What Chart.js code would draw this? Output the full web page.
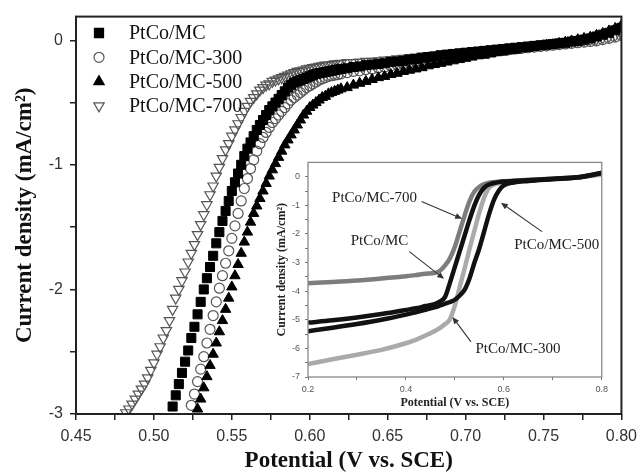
<!DOCTYPE html>
<html>
<head>
<meta charset="utf-8">
<script src="https://cdn.jsdelivr.net/npm/chart.js@4.4.1/dist/chart.umd.min.js"></script>
<style>
  html, body { margin: 0; padding: 0; background: #fff; }
  #wrap { position: relative; width: 644px; height: 475px; }
  #main { position: absolute; left: 0; top: 0; }
  #inset { position: absolute; left: 266px; top: 152px; }
</style>
</head>
<body>
<div id="wrap">
  <canvas id="main" width="644" height="475"></canvas>
  <canvas id="inset" width="346" height="258"></canvas>
</div>
<script>
// main plot: potential (V vs SCE), current density (mA/cm2)
var potential = [
  0.480, 0.482, 0.484, 0.486, 0.488, 0.490, 0.492, 0.494, 0.496, 0.498,
  0.500, 0.502, 0.504, 0.506, 0.508, 0.510, 0.512, 0.514, 0.516, 0.518,
  0.520, 0.522, 0.524, 0.526, 0.528, 0.530, 0.532, 0.534, 0.536, 0.538,
  0.540, 0.542, 0.544, 0.546, 0.548, 0.550, 0.552, 0.554, 0.556, 0.558,
  0.560, 0.562, 0.564, 0.566, 0.568, 0.570, 0.572, 0.574, 0.576, 0.578,
  0.580, 0.582, 0.584, 0.586, 0.588, 0.590, 0.592, 0.594, 0.596, 0.598,
  0.600, 0.602, 0.604, 0.606, 0.608, 0.610, 0.612, 0.614, 0.616, 0.618,
  0.620,
  0.624, 0.628, 0.632, 0.636, 0.640, 0.644, 0.648, 0.652, 0.656, 0.660,
  0.664, 0.668, 0.672, 0.676, 0.680, 0.684, 0.688, 0.692, 0.696, 0.700,
  0.704, 0.708, 0.712, 0.716, 0.720, 0.724, 0.728, 0.732, 0.736, 0.740,
  0.744, 0.748, 0.752, 0.756, 0.760, 0.764, 0.768, 0.772, 0.776, 0.780,
  0.784, 0.788, 0.792, 0.796, 0.800
];

var jMC = [
  null, null, null, null, null, null, null, null, null, null,
  null, null, null, null, null, null, -2.94, -2.85, -2.76, -2.67,
  -2.58, -2.49, -2.39, -2.30, -2.20, -2.10, -2.00, -1.91, -1.82, -1.73,
  -1.63, -1.54, -1.45, -1.37, -1.29, -1.21, -1.14, -1.07, -1.00, -0.93,
  -0.87, -0.82, -0.77, -0.72, -0.68, -0.64, -0.60, -0.56, -0.53, -0.50,
  -0.47, -0.44, -0.41, -0.38, -0.36, -0.34, -0.33, -0.32, -0.31, -0.30,
  -0.29, -0.28, -0.27, -0.265, -0.26, -0.255, -0.25, -0.245, -0.24, -0.235,
  -0.23,
  -0.225, -0.215, -0.21, -0.20, -0.195, -0.19, -0.185, -0.175, -0.17, -0.165,
  -0.155, -0.15, -0.14, -0.135, -0.13, -0.12, -0.115, -0.11, -0.105, -0.10,
  -0.095, -0.09, -0.085, -0.08, -0.075, -0.07, -0.065, -0.06, -0.055, -0.05,
  -0.045, -0.04, -0.035, -0.03, -0.025, -0.02, -0.01, -0.005, 0.005, 0.015,
  0.03, 0.045, 0.06, 0.08, 0.10
];

var jMC300 = [
  null, null, null, null, null, null, null, null, null, null,
  null, null, null, null, null, null, null, null, null, null,
  null, null, -2.93, -2.84, -2.74, -2.64, -2.54, -2.43, -2.32, -2.21,
  -2.10, -1.99, -1.89, -1.79, -1.69, -1.59, -1.49, -1.39, -1.29, -1.19,
  -1.11, -1.03, -0.96, -0.89, -0.83, -0.78, -0.74, -0.70, -0.66, -0.63,
  -0.60, -0.57, -0.54, -0.51, -0.48, -0.46, -0.44, -0.42, -0.40, -0.38,
  -0.365, -0.35, -0.335, -0.32, -0.31, -0.30, -0.29, -0.285, -0.28, -0.275,
  -0.27,
  -0.26, -0.25, -0.245, -0.235, -0.23, -0.22, -0.215, -0.205, -0.195, -0.19,
  -0.18, -0.17, -0.165, -0.155, -0.15, -0.14, -0.135, -0.13, -0.12, -0.115,
  -0.11, -0.105, -0.10, -0.09, -0.085, -0.08, -0.075, -0.07, -0.065, -0.06,
  -0.055, -0.05, -0.045, -0.04, -0.035, -0.03, -0.025, -0.02, -0.015, -0.01,
  -0.005, 0.005, 0.015, 0.025, 0.04
];

var jMC500 = [
  null, null, null, null, null, null, null, null, null, null,
  null, null, null, null, null, null, null, null, null, null,
  null, null, null, null, -2.96, -2.88, -2.79, -2.70, -2.61, -2.52,
  -2.43, -2.34, -2.25, -2.16, -2.07, -1.98, -1.89, -1.80, -1.71, -1.62,
  -1.54, -1.46, -1.39, -1.33, -1.27, -1.21, -1.15, -1.09, -1.04, -0.99,
  -0.94, -0.89, -0.84, -0.80, -0.76, -0.72, -0.68, -0.64, -0.60, -0.57,
  -0.54, -0.52, -0.50, -0.48, -0.46, -0.45, -0.43, -0.42, -0.41, -0.40,
  -0.39,
  -0.38, -0.36, -0.345, -0.33, -0.315, -0.30, -0.29, -0.275, -0.265, -0.25,
  -0.24, -0.23, -0.22, -0.205, -0.195, -0.185, -0.175, -0.165, -0.155, -0.145,
  -0.135, -0.125, -0.12, -0.11, -0.10, -0.095, -0.085, -0.08, -0.07, -0.065,
  -0.055, -0.05, -0.04, -0.035, -0.025, -0.015, -0.005, 0.005, 0.015, 0.025,
  0.04, 0.055, 0.075, 0.095, 0.12
];

var jMC700 = [
  null, -2.99, -2.96, -2.92, -2.88, -2.84, -2.80, -2.76, -2.71, -2.65,
  -2.59, -2.52, -2.46, -2.39, -2.33, -2.25, -2.16, -2.07, -2.00, -1.93,
  -1.86, -1.78, -1.71, -1.64, -1.56, -1.48, -1.40, -1.32, -1.24, -1.17,
  -1.09, -1.02, -0.95, -0.88, -0.83, -0.77, -0.72, -0.67, -0.62, -0.57,
  -0.53, -0.49, -0.46, -0.43, -0.40, -0.38, -0.36, -0.35, -0.33, -0.32,
  -0.31, -0.30, -0.29, -0.28, -0.27, -0.26, -0.25, -0.245, -0.24, -0.23,
  -0.225, -0.22, -0.215, -0.21, -0.205, -0.20, -0.20, -0.195, -0.19, -0.19,
  -0.185,
  -0.18, -0.18, -0.175, -0.17, -0.17, -0.165, -0.16, -0.155, -0.15, -0.145,
  -0.14, -0.135, -0.13, -0.125, -0.12, -0.115, -0.11, -0.105, -0.10, -0.095,
  -0.09, -0.085, -0.08, -0.075, -0.07, -0.065, -0.06, -0.055, -0.05, -0.045,
  -0.04, -0.035, -0.03, -0.025, -0.02, -0.015, -0.01, -0.005, 0.00, 0.005,
  0.01, 0.02, 0.03, 0.04, 0.05
];

var seriesNames = ['PtCo/MC', 'PtCo/MC-300', 'PtCo/MC-500', 'PtCo/MC-700'];

var xMajor = [0.45, 0.50, 0.55, 0.60, 0.65, 0.70, 0.75, 0.80];
var xLabels = ['0.45', '0.50', '0.55', '0.60', '0.65', '0.70', '0.75', '0.80'];
var xMinor = [0.475, 0.525, 0.575, 0.625, 0.675, 0.725, 0.775];
var yMajor = [-3, -2, -1, 0];
var yLabels = ['-3', '-2', '-1', '0'];
var yMinor = [-2.5, -1.5, -0.5];

// inset: full sweep
var insetPotential = [0.20, 0.25, 0.30, 0.35, 0.40, 0.42, 0.44, 0.46, 0.47, 0.48, 0.49, 0.50, 0.51, 0.52,
  0.53, 0.54, 0.55, 0.56, 0.57, 0.58, 0.59, 0.60, 0.62, 0.65, 0.70, 0.75, 0.80];
var inMC = [-5.1, -5.02, -4.92, -4.8, -4.66, -4.6, -4.52, -4.44, -4.36, -4.2, -3.7, -3.15, -2.6, -2.05,
  -1.5, -1.0, -0.62, -0.38, -0.27, -0.22, -0.19, -0.17, -0.15, -0.12, -0.07, -0.02, 0.12];
var inMC300 = [-6.55, -6.38, -6.22, -6.05, -5.82, -5.7, -5.55, -5.38, -5.28, -5.15, -4.98, -4.5, -3.85, -3.2,
  -2.52, -1.88, -1.25, -0.72, -0.38, -0.27, -0.22, -0.19, -0.16, -0.13, -0.08, -0.03, 0.08];
var inMC500 = [-5.4, -5.28, -5.15, -5.0, -4.82, -4.74, -4.65, -4.56, -4.5, -4.44, -4.38, -4.3, -4.15, -3.95,
  -3.55, -3.0, -2.5, -1.9, -1.3, -0.8, -0.48, -0.3, -0.2, -0.15, -0.09, -0.03, 0.14];
var inMC700 = [-3.72, -3.68, -3.63, -3.56, -3.48, -3.44, -3.39, -3.36, -3.28, -3.1, -2.85, -2.45, -1.9, -1.35,
  -0.85, -0.52, -0.35, -0.26, -0.21, -0.19, -0.17, -0.16, -0.14, -0.11, -0.07, -0.02, 0.10];

var inXMajor = [0.2, 0.4, 0.6, 0.8];
var inXLabels = ['0.2', '0.4', '0.6', '0.8'];
var inXMinor = [0.3, 0.5, 0.7];
var inYMajor = [-7, -6, -5, -4, -3, -2, -1, 0];
var inYLabels = ['-7', '-6', '-5', '-4', '-3', '-2', '-1', '0'];
var inYMinor = [-6.5, -5.5, -4.5, -3.5, -2.5, -1.5, -0.5];

// labels with arrows inside the inset, in data units
var insetNotes = [
  { text: 'PtCo/MC-700', at: [0.336, -0.73], from: [0.432, -0.87], to: [0.515, -1.47] },
  { text: 'PtCo/MC', at: [0.346, -2.24], from: [0.407, -2.62], to: [0.478, -3.57] },
  { text: 'PtCo/MC-500', at: [0.708, -2.38], from: [0.678, -1.92], to: [0.594, -0.91] },
  { text: 'PtCo/MC-300', at: [0.629, -6.01], from: [0.533, -5.77], to: [0.495, -4.9] }
];

function pts(xs, ys) {
  var out = [];
  for (var i = 0; i < xs.length; i++) {
    if (ys[i] !== null) out.push({ x: xs[i], y: ys[i] });
  }
  return out;
}

function setTicks(major, minor) {
  return function (scale) {
    scale.ticks = major.concat(minor).sort(function (a, b) { return a - b; })
      .map(function (v) { return { value: v }; });
  };
}

function tickLabel(major, labels) {
  return function (value) {
    var i = major.indexOf(value);
    return i >= 0 ? labels[i] : '';
  };
}

var framePlugin = {
  id: 'frame',
  afterDatasetsDraw: function (chart, args, opts) {
    var a = chart.chartArea, ctx = chart.ctx;
    ctx.save();
    ctx.strokeStyle = opts.color;
    ctx.lineWidth = opts.width;
    ctx.strokeRect(a.left, a.top, a.right - a.left, a.bottom - a.top);
    ctx.restore();
  }
};

function drawMarker(ctx, style, x, y, r, fill, stroke) {
  ctx.beginPath();
  if (style === 'rect') {
    var s = r * Math.SQRT1_2;
    ctx.rect(x - s, y - s, 2 * s, 2 * s);
  } else if (style === 'circle') {
    ctx.arc(x, y, r, 0, Math.PI * 2);
  } else {
    var d = style === 'down' ? -1 : 1;
    ctx.moveTo(x, y - d * r);
    ctx.lineTo(x - r * 0.866, y + d * r * 0.5);
    ctx.lineTo(x + r * 0.866, y + d * r * 0.5);
    ctx.closePath();
  }
  ctx.fillStyle = fill;
  ctx.fill();
  ctx.strokeStyle = stroke;
  ctx.lineWidth = 1.2;
  ctx.stroke();
}

var legendPlugin = {
  id: 'boxLegend',
  afterDraw: function (chart) {
    var ctx = chart.ctx;
    var styles = [
      ['rect', 6.4, '#000', '#000'],
      ['circle', 5, 'rgba(0,0,0,0)', '#555'],
      ['up', 6, '#000', '#000'],
      ['down', 6, 'rgba(0,0,0,0)', '#555']
    ];
    ctx.save();
    ctx.font = '20px "Liberation Serif"';
    ctx.textBaseline = 'middle';
    ctx.fillStyle = '#111';
    for (var i = 0; i < seriesNames.length; i++) {
      var y = 33 + i * 24.3;
      drawMarker(ctx, styles[i][0], 99, y, styles[i][1], styles[i][2], styles[i][3]);
      ctx.fillStyle = '#111';
      ctx.fillText(seriesNames[i], 129, y + 1);
    }
    ctx.restore();
  }
};

var notesPlugin = {
  id: 'notes',
  afterDraw: function (chart) {
    var ctx = chart.ctx, sx = chart.scales.x, sy = chart.scales.y;
    ctx.save();
    ctx.font = '15px "Liberation Serif"';
    ctx.textAlign = 'center';
    ctx.textBaseline = 'middle';
    insetNotes.forEach(function (n) {
      ctx.fillStyle = '#222';
      ctx.fillText(n.text, sx.getPixelForValue(n.at[0]), sy.getPixelForValue(n.at[1]));
      var x0 = sx.getPixelForValue(n.from[0]), y0 = sy.getPixelForValue(n.from[1]);
      var x1 = sx.getPixelForValue(n.to[0]), y1 = sy.getPixelForValue(n.to[1]);
      var ang = Math.atan2(y1 - y0, x1 - x0);
      ctx.strokeStyle = '#333';
      ctx.lineWidth = 1.1;
      ctx.beginPath();
      ctx.moveTo(x0, y0);
      ctx.lineTo(x1 - 4 * Math.cos(ang), y1 - 4 * Math.sin(ang));
      ctx.stroke();
      ctx.beginPath();
      ctx.moveTo(x1, y1);
      ctx.lineTo(x1 - 7 * Math.cos(ang) + 3 * Math.sin(ang), y1 - 7 * Math.sin(ang) - 3 * Math.cos(ang));
      ctx.lineTo(x1 - 7 * Math.cos(ang) - 3 * Math.sin(ang), y1 - 7 * Math.sin(ang) + 3 * Math.cos(ang));
      ctx.closePath();
      ctx.fillStyle = '#333';
      ctx.fill();
    });
    ctx.restore();
  }
};

var tickFont = { family: 'Liberation Sans', size: 16 };
var titleFont = { family: 'Liberation Serif', size: 23, weight: 'bold' };

var mainChart = new Chart(document.getElementById('main').getContext('2d'), {
  type: 'scatter',
  data: {
    datasets: [
      { label: seriesNames[2], data: pts(potential, jMC500), pointStyle: 'triangle', pointRadius: 6,
        backgroundColor: '#000', borderColor: '#000', borderWidth: 1 },
      { label: seriesNames[0], data: pts(potential, jMC), pointStyle: 'rect', pointRadius: 6.4,
        backgroundColor: '#000', borderColor: '#000', borderWidth: 1 },
      { label: seriesNames[1], data: pts(potential, jMC300), pointStyle: 'circle', pointRadius: 5,
        backgroundColor: 'rgba(0,0,0,0)', borderColor: '#555', borderWidth: 1.2 },
      { label: seriesNames[3], data: pts(potential, jMC700), pointStyle: 'triangle', pointRotation: 180,
        pointRadius: 6, backgroundColor: 'rgba(0,0,0,0)', borderColor: '#555', borderWidth: 1.2 }
    ]
  },
  options: {
    responsive: false,
    animation: false,
    devicePixelRatio: 1,
    layout: { padding: { top: 12, right: 16, left: 0, bottom: 0 } },
    plugins: {
      legend: { display: false },
      tooltip: { enabled: false },
      frame: { color: '#222', width: 2 }
    },
    scales: {
      x: {
        type: 'linear', min: 0.45, max: 0.80,
        afterBuildTicks: setTicks(xMajor, xMinor),
        afterFit: function (s) { s.height = 61; },
        ticks: { callback: tickLabel(xMajor, xLabels), font: tickFont, color: '#333',
          padding: 7, maxRotation: 0, autoSkip: false },
        grid: { drawOnChartArea: false, drawTicks: true, tickLength: 6, color: '#222', lineWidth: 1.5 },
        border: { display: false },
        title: { display: true, text: 'Potential (V vs. SCE)', font: titleFont, color: '#111',
          padding: { top: 0, bottom: 0 } }
      },
      y: {
        type: 'linear', min: -3, max: 0.19,
        afterBuildTicks: setTicks(yMajor, yMinor),
        afterFit: function (s) { s.width = 76; },
        ticks: { callback: tickLabel(yMajor, yLabels), font: tickFont, color: '#333',
          padding: 7, autoSkip: false },
        grid: { drawOnChartArea: false, drawTicks: true, tickLength: 6, color: '#222', lineWidth: 1.5 },
        border: { display: false },
        title: { display: true, text: 'Current density (mA/cm\u00b2)', font: titleFont, color: '#111',
          padding: { top: 11, bottom: 0 } }
      }
    }
  },
  plugins: [framePlugin, legendPlugin]
});

var inTick = { family: 'Liberation Sans', size: 9 };
var inTitle = { family: 'Liberation Serif', size: 12, weight: 'bold' };

function insetSet(label, ys, color) {
  return { label: label, data: pts(insetPotential, ys), showLine: true, pointRadius: 0,
    borderColor: color, borderWidth: 4.5, cubicInterpolationMode: 'monotone' };
}

var insetChart = new Chart(document.getElementById('inset').getContext('2d'), {
  type: 'scatter',
  data: {
    datasets: [
      insetSet(seriesNames[0], inMC, '#111'),
      insetSet(seriesNames[2], inMC500, '#111'),
      insetSet(seriesNames[1], inMC300, '#aaaaaa'),
      insetSet(seriesNames[3], inMC700, '#7d7d7d')
    ]
  },
  options: {
    responsive: false,
    animation: false,
    devicePixelRatio: 1,
    layout: { padding: { top: 10, right: 10, left: 0, bottom: 0 } },
    plugins: {
      legend: { display: false },
      tooltip: { enabled: false },
      frame: { color: '#888', width: 1.3 }
    },
    scales: {
      x: {
        type: 'linear', min: 0.2, max: 0.8,
        afterBuildTicks: setTicks(inXMajor, inXMinor),
        afterFit: function (s) { s.height = 33; },
        ticks: { callback: tickLabel(inXMajor, inXLabels), font: inTick, color: '#555',
          padding: 4, maxRotation: 0, autoSkip: false },
        grid: { drawOnChartArea: false, drawTicks: true, tickLength: 3, color: '#777', lineWidth: 1 },
        border: { display: false },
        title: { display: true, text: 'Potential (V vs. SCE)', font: inTitle, color: '#222',
          padding: { top: 0, bottom: 0 } }
      },
      y: {
        type: 'linear', min: -7, max: 0.5,
        afterBuildTicks: setTicks(inYMajor, inYMinor),
        afterFit: function (s) { s.width = 42; },
        ticks: { callback: tickLabel(inYMajor, inYLabels), font: inTick, color: '#555',
          padding: 5, autoSkip: false },
        grid: { drawOnChartArea: false, drawTicks: true, tickLength: 3, color: '#777', lineWidth: 1 },
        border: { display: false },
        title: { display: true, text: 'Current density (mA/cm\u00b2)', font: inTitle, color: '#222',
          padding: { top: 9, bottom: 0 } }
      }
    }
  },
  plugins: [framePlugin, notesPlugin]
});
</script>
</body>
</html>
